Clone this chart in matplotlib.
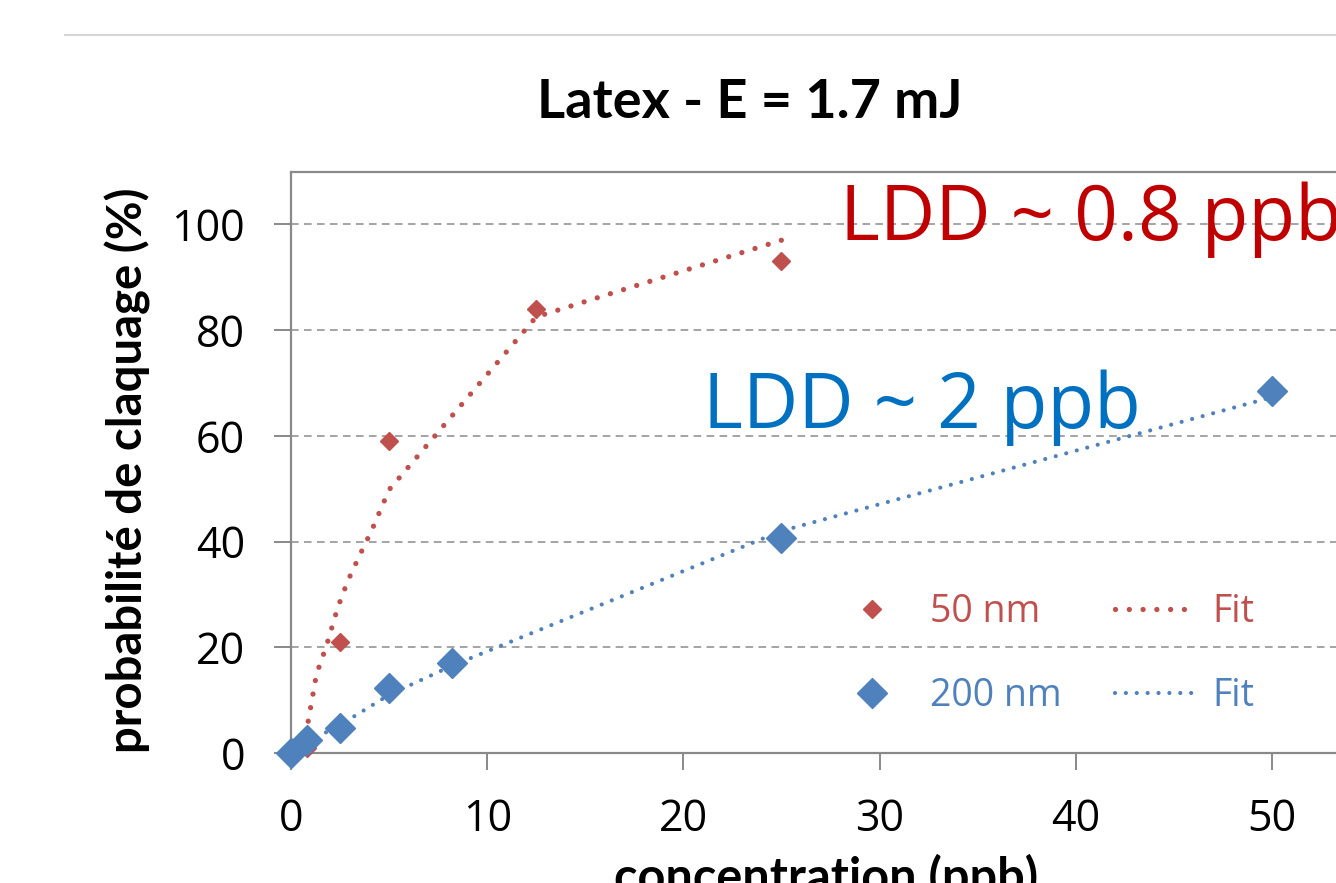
import numpy as np
import matplotlib
matplotlib.use("Agg")
import matplotlib.pyplot as plt
from matplotlib.lines import Line2D

# --- data ---
x_50nm = [0.8, 2.5, 5.0, 12.5, 25.0]
y_50nm = [1.0, 21.0, 59.0, 84.0, 93.0]

x_200nm = [0.0, 0.8, 2.5, 5.0, 8.2, 25.0, 50.0]
y_200nm = [0.0, 2.5, 4.8, 12.3, 17.0, 40.7, 68.4]

# fit curves (dotted)
fit50_x = [0.5, 0.8, 1.3, 1.8, 2.4, 2.9, 3.5, 4.1, 5.0, 12.5, 25.0]
fit50_y = [1.0, 4.4, 14.9, 20.2, 27.7, 32.6, 37.4, 42.0, 49.8, 82.5, 97.0]

fit200_x = [0.8, 2.5, 5.0, 8.2, 25.0, 50.0]
fit200_y = [2.0, 5.3, 11.0, 16.5, 42.0, 67.3]

x_ticks = [0, 10, 20, 30, 40, 50]
y_ticks = [0, 20, 40, 60, 80, 100]

red = '#C0504D'
blue = '#4F81BD'
gray = '#898989'

W, H = 1336, 883
fig = plt.figure(figsize=(W / 100, H / 100), dpi=100)

# axes placed in pixels; right side runs past the figure edge (cropped chart)
x0, x_right, y_bot, y_top = 291, 1370, 753, 171.5
ax = fig.add_axes([x0 / W, 1 - y_bot / H, (x_right - x0) / W, (y_bot - y_top) / H])
ax.set_xlim(0, 55)
ax.set_ylim(0, 110)

for s in ax.spines.values():
    s.set_color(gray)
    s.set_linewidth(1.6)

ax.set_xticks(x_ticks)
ax.set_yticks(y_ticks)
ax.tick_params(axis='both', direction='out', length=12, width=1.4, color=gray,
               labelsize=31, labelcolor='black')
ax.tick_params(axis='x', pad=20)
ax.tick_params(axis='y', pad=21)
for lab in ax.get_xticklabels() + ax.get_yticklabels():
    lab.set_fontfamily('Open Sans')

ax.yaxis.grid(True, color='#8c8c8c', linestyle=(0, (5, 3.5)), linewidth=1.1)
ax.set_axisbelow(True)

# series
ax.plot(fit50_x, fit50_y, color=red, linewidth=3.8, linestyle=(0, (0.01, 2.6)),
        dash_capstyle='round', zorder=3, label='Fit')
ax.plot(fit200_x, fit200_y, color=blue, linewidth=3.0, linestyle=(0, (0.01, 2.6)),
        dash_capstyle='round', zorder=3, label='Fit')
ax.plot(x_50nm, y_50nm, linestyle='none', marker='D', markersize=9.5, color=red,
        clip_on=False, zorder=4, label='50 nm')
ax.plot(x_200nm, y_200nm, linestyle='none', marker='D', markersize=15, color=blue,
        clip_on=False, zorder=5, label='200 nm')

# annotations
ax.text(28.0, 97.0, 'LDD ~ 0.8 ppb', color='#C00000', fontsize=55,
        fontfamily='Open Sans', va='baseline', ha='left', clip_on=False)
ax.text(21.0, 61.5, 'LDD ~ 2 ppb', color='#0070C0', fontsize=55,
        fontfamily='Open Sans', va='baseline', ha='left')

# legend: rows = (points, fit)
h, l = ax.get_legend_handles_labels()
order = [2, 3, 0, 1]
leg = fig.legend([h[i] for i in order], [l[i] for i in order], ncol=2,
                 loc='upper left', bbox_to_anchor=(832 / W, 1 - 593 / H),
                 frameon=False, prop={'family': 'Open Sans', 'size': 27},
                 handlelength=2.13, handletextpad=0.48, columnspacing=1.42,
                 labelspacing=1.24, borderpad=0, borderaxespad=0)
for txt, c in zip(leg.get_texts(), [red, blue, red, blue]):
    txt.set_color(c)

# titles
fig.text(750 / W, 1 - 103 / H, 'Latex - E = 1.7 mJ', fontsize=39, fontweight='bold',
         fontfamily='Lato', ha='center', va='center')
fig.text(128 / W, 1 - 470 / H, 'probabilité de claquage (%)', fontsize=34,
         fontweight='bold', fontfamily='Lato', rotation=90, ha='center', va='center')
fig.text(826 / W, 1 - 893 / H, 'concentration (ppb)', fontsize=35, fontweight='bold',
         fontfamily='Lato', ha='center', va='baseline')

# thin rule at the top of the slide
fig.add_artist(Line2D([65 / W, 1.0], [1 - 35 / H, 1 - 35 / H], color='#d4d4d4',
                      linewidth=1.5, transform=fig.transFigure))

fig.savefig('out.png', dpi=100)
